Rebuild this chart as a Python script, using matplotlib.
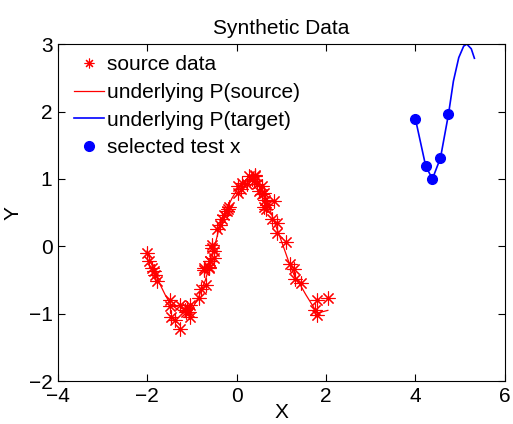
#!/usr/bin/env python3

import matplotlib
matplotlib.use('Agg')
import matplotlib.pyplot as plt

# source samples
SRC_X = [-2.01, -1.97, -1.89, -1.86, -1.82, -1.78, -1.49, -1.50, -1.47, -1.38,
         -1.26, -1.26, -1.15, -1.07, -1.11, -1.04, -1.05, -0.85, -0.81, -0.68,
         -0.74, -0.63, -0.60, -0.74, -0.63, -0.59, -0.51, -0.55, -0.51, -0.55,
         -0.44, -0.37, -0.33, -0.29, -0.22, -0.18, 0.03, 0.04, 0.12, 0.23,
         0.27, 0.42, 0.38, 0.49, 0.57, 0.60, 0.42, 0.45, 0.57, 0.60,
         0.64, 0.68, 0.83, 0.66, 0.79, 0.90, 0.90, 1.11, 1.19, 1.28,
         1.31, 1.44, 1.80, 2.04, 1.76, 1.80, -0.20, 0.35, -1.13, 0.10]
SRC_Y = [-0.10, -0.21, -0.32, -0.37, -0.42, -0.51, -0.79, -0.89, -1.05, -1.09,
         -1.22, -0.87, -0.94, -0.97, -0.92, -0.87, -1.05, -0.77, -0.64, -0.57,
         -0.35, -0.30, -0.22, -0.32, -0.32, -0.22, -0.17, -0.02, -0.07, 0.02,
         0.25, 0.32, 0.40, 0.47, 0.52, 0.59, 0.79, 0.89, 0.94, 0.92,
         1.04, 1.06, 0.97, 0.82, 0.77, 0.59, 1.04, 0.92, 0.89, 0.79,
         0.69, 0.62, 0.68, 0.56, 0.40, 0.35, 0.20, 0.06, -0.26, -0.33,
         -0.48, -0.54, -0.79, -0.77, -0.94, -1.02, 0.55, 1.00, -0.98, 0.85]

# underlying source function
PS_X = [-2.01, -1.8, -1.6, -1.49, -1.3, -1.15, -1.0, -0.85, -0.7, -0.55, -0.4,
        -0.25, -0.1, 0.04, 0.2, 0.4, 0.55, 0.7, 0.85, 1.0, 1.16, 1.3, 1.42,
        1.55, 1.7, 1.8, 2.04]
PS_Y = [-0.07, -0.45, -0.72, -0.85, -0.95, -0.98, -0.93, -0.75, -0.50, -0.15,
        0.25, 0.52, 0.72, 0.87, 0.96, 1.02, 0.90, 0.62, 0.35, 0.08, -0.22,
        -0.45, -0.57, -0.72, -0.88, -0.99, -0.95]

# underlying target function
PT_X = [4.0, 4.23, 4.38, 4.56, 4.74, 4.85, 4.97, 5.08, 5.15, 5.25, 5.32]
PT_Y = [1.89, 1.19, 1.0, 1.31, 1.96, 2.45, 2.80, 2.97, 3.0, 2.93, 2.79]

# selected test points
TEST_X = [4.0, 4.23, 4.38, 4.56, 4.74]
TEST_Y = [1.89, 1.19, 1.0, 1.31, 1.96]

plt.rcParams['font.family'] = ['Liberation Sans', 'DejaVu Sans']
plt.rcParams['font.size'] = 15

fig = plt.figure(figsize=(5.13, 4.24), dpi=100)
ax = fig.add_axes([0.113, 0.101, 0.871, 0.795])

ax.plot(SRC_X, SRC_Y, linestyle='none', marker=(8, 2, 0), color='red',
        markersize=10, markeredgewidth=0.8, label='source data')
ax.plot(PS_X, PS_Y, color='red', linewidth=0.9, label='underlying P(source)')
ax.plot(PT_X, PT_Y, color='blue', linewidth=1.2, label='underlying P(target)')
ax.plot(TEST_X, TEST_Y, linestyle='none', marker='o', color='blue',
        markersize=7, label='selected test x')

ax.set_xlim(-4, 6)
ax.set_ylim(-2, 3)
ax.set_xticks([-4, -2, 0, 2, 4, 6])
ax.set_yticks([-2, -1, 0, 1, 2, 3])
ax.set_xticklabels(['\u22124', '\u22122', '0', '2', '4', '6'])
ax.set_yticklabels(['\u22122', '\u22121', '0', '1', '2', '3'])
ax.tick_params(direction='in', top=True, right=True, length=5, pad=4)
ax.set_title('Synthetic Data', fontsize=15, pad=7)
ax.set_xlabel('X', labelpad=-2)
ax.set_ylabel('Y', labelpad=4)

leg = ax.legend(loc='upper left', bbox_to_anchor=(0.022, 0.986), frameon=False,
                handlelength=1.45, handletextpad=0.15, borderaxespad=0.0,
                labelspacing=0.42, borderpad=0.3, fontsize=15)
leg.legend_handles[0].set_markersize(7)

fig.savefig('out.png', dpi=100)
